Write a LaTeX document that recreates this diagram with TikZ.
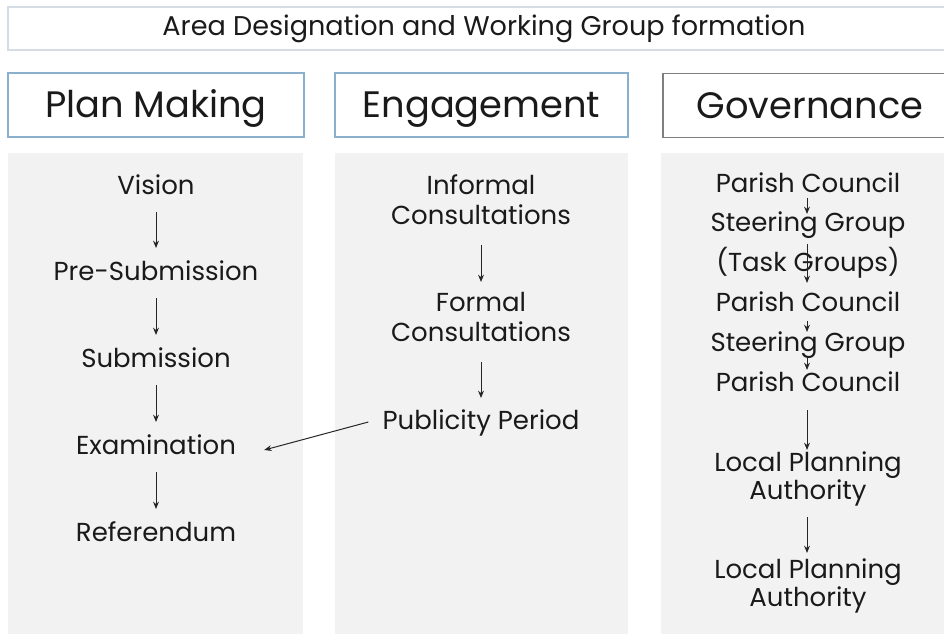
\documentclass[tikz,border=0pt]{standalone}
\usepackage{fontspec}
\setmainfont{Poppins}
\usetikzlibrary{arrows.meta}

\definecolor{panelgray}{HTML}{F2F2F2}
\definecolor{boxblue}{HTML}{8AB0CE}
\definecolor{boxgray}{HTML}{7F7F7F}
\definecolor{topline}{HTML}{D6DCE4}
\definecolor{inktext}{HTML}{1A1A1A}

\tikzset{
  titlebox/.style={draw=topline, line width=0.8pt, fill=white, text=inktext,
    minimum width=714pt, minimum height=32.25pt, font=\fontsize{20.3}{24}\selectfont},
  headbox/.style={draw=boxblue, line width=0.9pt, fill=white, text=inktext,
    text height=19.3pt, text depth=0pt,
    minimum width=222pt, minimum height=48pt, font=\fontsize{27.6}{32}\selectfont},
  stage/.style={font=\fontsize{19.5}{22.5}\selectfont, align=center, text=inktext, inner sep=0pt},
  oneline/.style={stage, text height=13.65pt, text depth=0pt},
  arr/.style={-{Stealth[length=5.5pt,width=4.4pt]}, line width=0.75pt, draw=black!85},
}

\begin{document}
\begin{tikzpicture}[x=0.75pt,y=-0.75pt]
  \useasboundingbox (0,0) rectangle (944,634);
  \clip (0,0) rectangle (944,634);

  % top banner and column headers
  \node[titlebox] (area) at (484,28.5) {Area Designation and Working Group formation};
  \node[headbox] (plan) at (156,105) {Plan Making};
  \node[headbox, minimum width=219.75pt] (engage) at (481.5,105) {Engagement};
  \node[headbox, draw=boxgray, minimum width=220.5pt] (govern) at (810,105.5) {Governance};

  % grey panels
  \fill[panelgray] (8,153) rectangle (303,640);
  \fill[panelgray] (335,153) rectangle (628,640);
  \fill[panelgray] (661,153) rectangle (960,640);

  % plan making
  \node[oneline] (vision) at (156,185) {Vision};
  \node[oneline] (presub) at (156,271) {Pre-Submission};
  \node[oneline] (submit) at (156,358) {Submission};
  \node[oneline] (exam)   at (156,445) {Examination};
  \node[oneline] (refer)  at (156,532) {Referendum};
  \foreach \a/\b in {vision/presub, presub/submit, submit/exam, exam/refer}
    \draw[arr] ([yshift=-20.25pt]\a.center) -- ([yshift=17.25pt]\b.center);

  % engagement
  \node[stage] (informal)  at (481,200) {Informal\\Consultations};
  \node[stage] (formal)    at (481,317) {Formal\\Consultations};
  \node[oneline] (publicity) at (481,420) {Publicity Period};
  \draw[arr] ([yshift=-33.75pt]informal.center) -- ([yshift=26.25pt]formal.center);
  \draw[arr] ([yshift=-33.75pt]formal.center) -- ([yshift=16.5pt]publicity.center);
  \draw[arr] ([xshift=-10.5pt,yshift=-1.5pt]publicity.west) -- ([xshift=21pt,yshift=-3.75pt]exam.east);

  % governance
  \node[oneline] (parish1) at (808,183) {Parish Council};
  \node[oneline] (steer1)  at (808,222) {Steering Group};
  \node[oneline] (task)    at (808,262) {(Task Groups)};
  \node[oneline] (parish2) at (808,302) {Parish Council};
  \node[oneline] (steer2)  at (808,342) {Steering Group};
  \node[oneline] (parish3) at (808,382) {Parish Council};
  \node[stage, font=\fontsize{19.5}{21}\selectfont] (lpa1) at (808,479) {Local Planning\\Authority};
  \node[stage, font=\fontsize{19.5}{21}\selectfont] (lpa2) at (808,586) {Local Planning\\Authority};
  \draw[arr] ([xshift=-0.75pt,yshift=-11.25pt]parish1.center) -- ([xshift=-0.75pt,yshift=6pt]steer1.center);
  \draw[arr] ([xshift=-0.75pt,yshift=-16.5pt]steer1.center) -- ([xshift=-0.75pt,yshift=14.25pt]parish2.center);
  \draw[arr] ([xshift=-0.75pt,yshift=-14.25pt]parish2.center) -- ([xshift=-0.75pt,yshift=7.5pt]steer2.center);
  \draw[arr] ([xshift=-0.75pt,yshift=-11.25pt]steer2.center) -- ([xshift=-0.75pt,yshift=9pt]parish3.center);
  \draw[arr] ([xshift=-0.75pt,yshift=-21pt]parish3.center) -- ([xshift=-0.75pt,yshift=21.75pt]lpa1.center);
  \draw[arr] ([xshift=-0.75pt,yshift=-28.5pt]lpa1.center) -- ([xshift=-0.75pt,yshift=24.75pt]lpa2.center);
\end{tikzpicture}
\end{document}
